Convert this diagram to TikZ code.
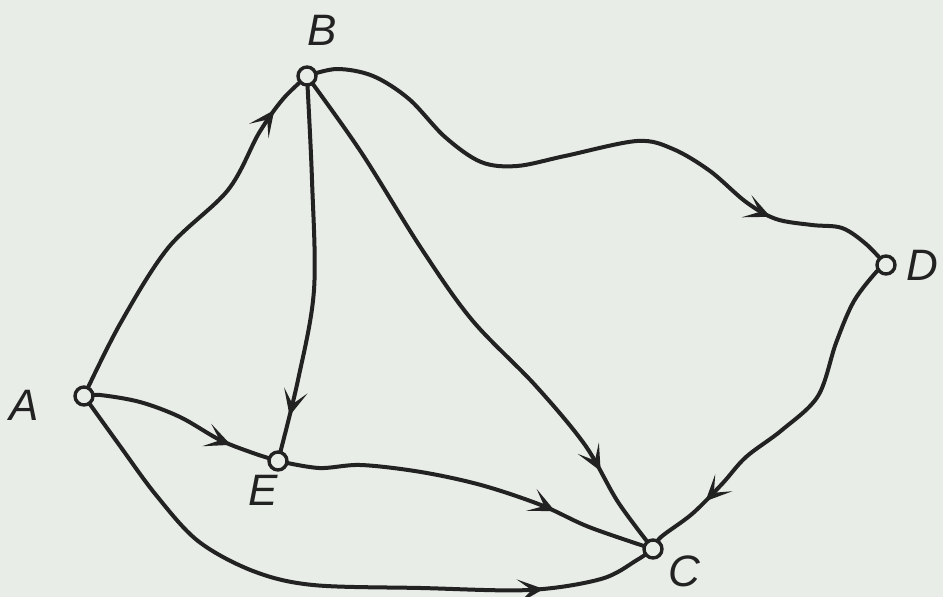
\documentclass[tikz,border=0pt]{standalone}
\usepackage{fontspec}
\setmainfont{Liberation Sans}
\usetikzlibrary{arrows.meta,decorations.markings}
\definecolor{paper}{RGB}{232,237,231}
\definecolor{ink}{RGB}{34,34,34}
\pgfdeclarelayer{back}
\pgfdeclarelayer{lines}
\pgfsetlayers{back,lines,main}
\begin{document}
\begin{tikzpicture}[x=1pt,y=-1pt,line join=round,line cap=round,
  vertex/.style={circle,draw=ink,fill=paper,line width=3.4pt,inner sep=0pt,minimum size=18pt},
  lbl/.style={font=\fontsize{44}{44}\selectfont\itshape,text=ink,inner sep=0pt},
  link/.style={draw=ink,line width=4pt},
  tipat/.style={postaction={decorate,decoration={markings,
      mark=at position #1 with {\arrow[line width=4pt]{Stealth[length=26pt,width=24pt,inset=14pt]}}}}}]
  \begin{pgfonlayer}{back}
    \fill[paper] (0,0) rectangle (943,597);
  \end{pgfonlayer}
  \useasboundingbox (0,0) rectangle (943,597);
  % vertices
  \node[vertex] (A) at (84,396) {};
  \node[vertex] (B) at (307,76) {};
  \node[vertex] (C) at (653,549) {};
  \node[vertex] (D) at (886,265) {};
  \node[vertex] (E) at (278,461) {};
  \node[lbl] (labA) at (24,405) {A};
  \node[lbl] (labB) at (322,30) {B};
  \node[lbl] (labC) at (684,571) {C};
  \node[lbl] (labD) at (922,265) {D};
  \node[lbl] (labE) at (263,490) {E};
  % edges
  \begin{pgfonlayer}{lines}
    \draw[link,tipat=0.88] plot[smooth,tension=0.55] coordinates
      {(A.center) (120,324) (168,248) (228,190) (259,133) (283,99) (B.center)};
    \draw[link,tipat=0.88] plot[smooth,tension=0.55] coordinates
      {(B.center) (312,180) (314,290) (298,380) (E.center)};
    \draw[link,tipat=0.84] plot[smooth,tension=0.55] coordinates
      {(B.center) (361,152) (421,248) (472,320) (535,385) (585,445) (618,502) (C.center)};
    \draw[link,tipat=0.80] plot[smooth,tension=0.55] coordinates
      {(B.center) (337,69) (373,76) (409,99) (445,137) (481,162) (517,166) (565,156)
       (637,141) (673,149) (710,171) (746,202) (776,219) (812,225) (842,228) (866,244) (D.center)};
    \draw[link,tipat=0.76] plot[smooth,tension=0.55] coordinates
      {(A.center) (100,395) (140,402) (180,417) (220,440) (253,453) (E.center)};
    \draw[link,tipat=0.73] plot[smooth,tension=0.55] coordinates
      {(E.center) (319,468) (361,465) (421,472) (481,485) (541,505) (589,527) (C.center)};
    \draw[link,tipat=0.82] plot[smooth,tension=0.55] coordinates
      {(A.center) (120,446) (156,495) (198,541) (253,571) (313,585) (421,588) (529,590)
       (601,579) (637,560) (C.center)};
    \draw[link,tipat=0.81] plot[smooth,tension=0.55] coordinates
      {(D.center) (878,270) (854,301) (836,343) (818,396) (782,430) (746,457) (722,484)
       (692,514) (661,537) (C.center)};
  \end{pgfonlayer}
\end{tikzpicture}
\end{document}
